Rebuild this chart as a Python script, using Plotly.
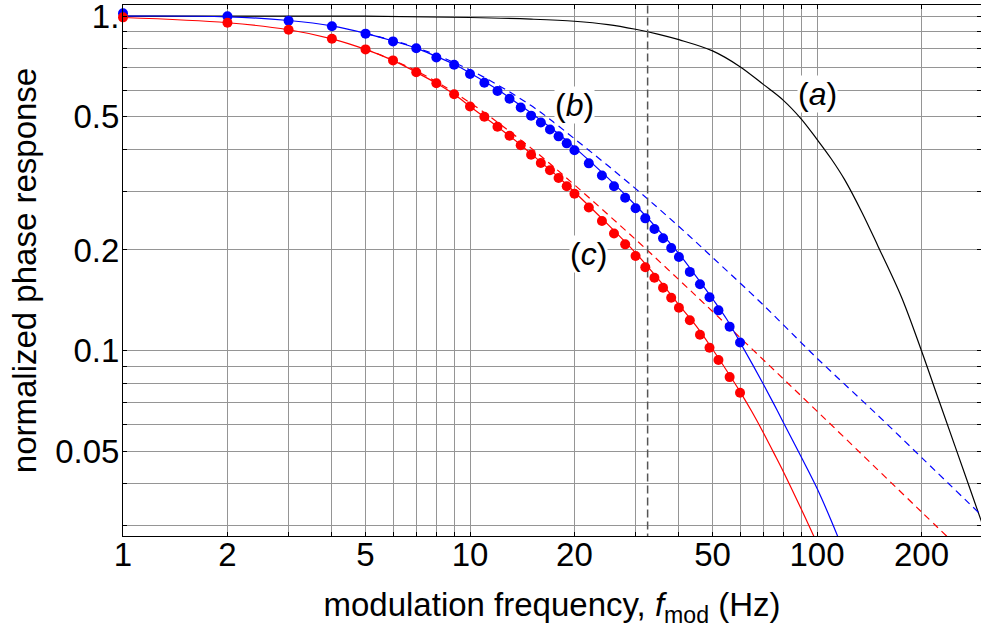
import math
import plotly.graph_objects as go

# ---------------- data ----------------
dot_freq = [1, 2, 3, 4, 5, 6, 7, 8, 9, 10, 11, 12, 13, 14, 15, 16, 17, 18, 19, 20,
            22, 24, 26, 28, 30, 32, 34, 36, 38, 40, 43, 46, 49, 52, 56, 60]
blue_dots = [1.02, 0.998, 0.968, 0.932, 0.886, 0.840, 0.801, 0.752, 0.715, 0.671,
             0.632, 0.597, 0.566, 0.533, 0.504, 0.481, 0.458, 0.437, 0.4165, 0.397,
             0.363, 0.334, 0.310, 0.2866, 0.2664, 0.2486, 0.231, 0.2167, 0.2026, 0.1905,
             0.172, 0.158, 0.1444, 0.132, 0.118, 0.1058]
red_dots = [0.991, 0.955, 0.910, 0.855, 0.795, 0.737, 0.679, 0.630, 0.584, 0.537,
            0.500, 0.467, 0.439, 0.411, 0.385, 0.364, 0.346, 0.328, 0.310, 0.2945,
            0.268, 0.244, 0.224, 0.2079, 0.1919, 0.1775, 0.1652, 0.1542, 0.144, 0.1344,
            0.1233, 0.1116, 0.1021, 0.0938, 0.0834, 0.0749]

# curve (a)
a_freq = [1, 5, 10, 15, 20, 25, 30, 35, 40, 50, 60, 70, 80, 90, 100, 110, 120, 135,
          150, 175, 200, 225, 250, 275, 300]
a_val = [1.0, 0.9995, 0.99, 0.979, 0.965, 0.943, 0.913, 0.882, 0.850, 0.787, 0.706,
         0.625, 0.560, 0.493, 0.428, 0.374, 0.325, 0.258, 0.205, 0.145, 0.100, 0.0706,
         0.0518, 0.0391, 0.0302]

# curve (b) solid
b_freq = [1, 2, 3, 4, 5, 6, 7, 8, 9, 10, 12, 14, 16, 18, 20, 25, 30, 35, 40, 45,
          50, 55, 60, 65, 70, 75, 80, 90, 100, 110, 117]
b_val = [1.0, 0.995, 0.97, 0.935, 0.888, 0.842, 0.802, 0.757, 0.718, 0.676, 0.603,
         0.54, 0.488, 0.444, 0.405, 0.328, 0.272, 0.229, 0.195, 0.166, 0.143, 0.124,
         0.106, 0.0915, 0.0795, 0.0695, 0.061, 0.0482, 0.0388, 0.031, 0.0265]

# curve (c) solid
c_freq = [1, 2, 3, 4, 5, 6, 7, 8, 9, 10, 12, 14, 16, 18, 20, 25, 30, 35, 40, 45,
          50, 55, 60, 65, 70, 75, 80, 90, 100]
c_val = [0.99, 0.955, 0.91, 0.855, 0.795, 0.737, 0.679, 0.63, 0.584, 0.537, 0.467,
         0.412, 0.366, 0.33, 0.298, 0.238, 0.196, 0.163, 0.137, 0.118, 0.101, 0.087,
         0.0755, 0.0656, 0.057, 0.0496, 0.0435, 0.0337, 0.0266]

# dashed (first-order) curves
bd_freq = [5, 7, 10, 15, 20, 30, 40, 50, 70, 100, 150, 200, 300]
bd_val = [0.888, 0.805, 0.69, 0.54, 0.43, 0.305, 0.235, 0.19, 0.137, 0.095, 0.064,
          0.048, 0.032]
cd_freq = [5, 7, 10, 15, 20, 30, 40, 50, 70, 100, 150, 200, 240]
cd_val = [0.797, 0.686, 0.551, 0.403, 0.313, 0.215, 0.163, 0.131, 0.094, 0.066,
          0.044, 0.033, 0.0275]

vline_freq = 32.5

# ticks / grid
x_grid = [1, 2, 3, 4, 5, 6, 7, 8, 9, 10, 20, 30, 40, 50, 60, 70, 80, 90, 100, 200, 300]
x_labels = {1: "1", 2: "2", 5: "5", 10: "10", 20: "20", 50: "50", 100: "100", 200: "200"}
y_grid = [0.03, 0.04, 0.05, 0.06, 0.07, 0.08, 0.09, 0.1, 0.2, 0.3, 0.4, 0.5, 0.6,
          0.7, 0.8, 0.9, 1.0]
y_labels = {1.0: "1.", 0.5: "0.5", 0.2: "0.2", 0.1: "0.1", 0.05: "0.05"}

labels = [("(<i>a</i>)", 100, 0.585), ("(<i>b</i>)", 20.07, 0.542), ("(<i>c</i>)", 21.9, 0.1945)]

# ---------------- figure ----------------
FONT = "Liberation Sans"
BLUE = "#0000ff"
RED = "#ff0000"

fig = go.Figure()

fig.add_trace(go.Scatter(x=a_freq, y=a_val, mode="lines",
                         line=dict(color="black", width=1.2, shape="spline"), showlegend=False))
fig.add_trace(go.Scatter(x=bd_freq, y=bd_val, mode="lines",
                         line=dict(color=BLUE, width=1.2, dash="7px,5px", shape="spline"), showlegend=False))
fig.add_trace(go.Scatter(x=cd_freq, y=cd_val, mode="lines",
                         line=dict(color=RED, width=1.2, dash="7px,5px", shape="spline"), showlegend=False))
fig.add_trace(go.Scatter(x=b_freq, y=b_val, mode="lines",
                         line=dict(color=BLUE, width=1.2, shape="spline"), showlegend=False))
fig.add_trace(go.Scatter(x=c_freq, y=c_val, mode="lines",
                         line=dict(color=RED, width=1.2, shape="spline"), showlegend=False))
fig.add_trace(go.Scatter(x=[vline_freq, vline_freq], y=[0.01, 2], mode="lines",
                         line=dict(color="#555555", width=1.5, dash="8px,4px"), showlegend=False))
fig.add_trace(go.Scatter(x=dot_freq, y=blue_dots, mode="markers",
                         marker=dict(color=BLUE, size=10), cliponaxis=False, showlegend=False))
fig.add_trace(go.Scatter(x=dot_freq, y=red_dots, mode="markers",
                         marker=dict(color=RED, size=10), cliponaxis=False, showlegend=False))

for txt, fx, fy in labels:
    fig.add_annotation(x=math.log10(fx), y=math.log10(fy), text=txt, showarrow=False,
                       bgcolor="white", borderpad=0,
                       font=dict(family=FONT, size=32, color="black"))

axis_common = dict(type="log", showgrid=True, gridcolor="#959595", gridwidth=1,
                   showline=True, linecolor="black", linewidth=1, mirror="allticks",
                   ticks="inside", ticklen=4, tickcolor="black", zeroline=False,
                   ticklabeloverflow="allow",
                   tickfont=dict(family=FONT, size=33, color="black"), automargin=False)

fig.update_xaxes(range=[0, 858 / 347], tickvals=x_grid,
                 ticktext=[x_labels.get(v, "") for v in x_grid],
                 ticklabelstandoff=-11,
                 title=dict(text="modulation frequency, <i>f</i><sub>mod</sub> (Hz)",
                            font=dict(family=FONT, size=33, color="black"), standoff=21),
                 **axis_common)
fig.update_yaxes(range=[math.log10(0.02795), math.log10(1.079)], tickvals=y_grid,
                 ticktext=[y_labels.get(v, "") for v in y_grid],
                 ticklabelstandoff=-4,
                 title=dict(text="normalized phase response",
                            font=dict(family=FONT, size=33, color="black"), standoff=8),
                 **axis_common)

fig.update_layout(width=981, height=632, margin=dict(l=123, r=0, t=5, b=96),
                  paper_bgcolor="white", plot_bgcolor="white",
                  font=dict(family=FONT, color="black"))

fig.write_html("out.html", config={"displayModeBar": False},
               post_script="document.body.style.margin='0px';document.body.style.overflow='hidden';")
